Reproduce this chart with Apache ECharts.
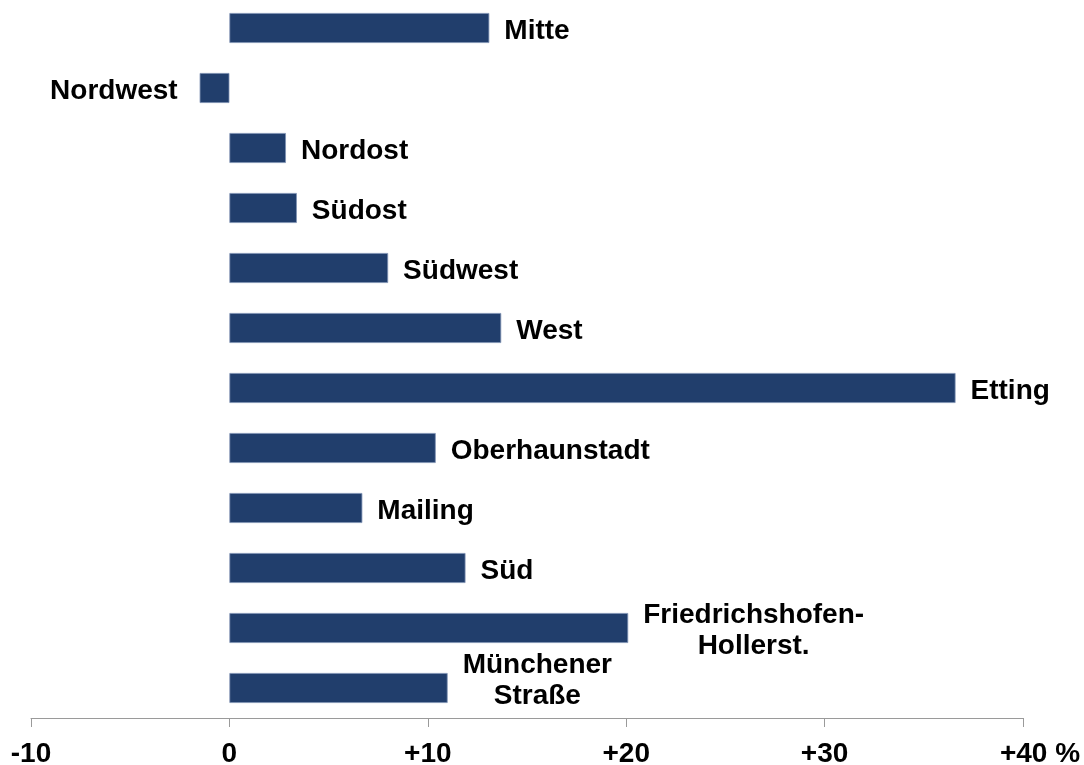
<!DOCTYPE html>
<html>
<head>
<meta charset="utf-8">
<script src="https://cdn.jsdelivr.net/npm/echarts@6/dist/echarts.min.js"></script>
<style>
  html, body { margin: 0; padding: 0; background: #fff; }
  #main { width: 1084px; height: 765px; }
</style>
</head>
<body>
<div id="main"></div>
<script>
var myChart = echarts.init(document.getElementById('main'));

var districts = ['Mitte', 'Nordwest', 'Nordost', 'Südost', 'Südwest', 'West', 'Etting',
    'Oberhaunstadt', 'Mailing', 'Süd', 'Friedrichshofen-\nHollerst.', 'Münchener\nStraße'];
var change = [13.1, -1.5, 2.85, 3.4, 8.0, 13.7, 36.6, 10.4, 6.7, 11.9, 20.1, 11.0];
var axisTicks = [-10, 0, 10, 20, 30, 40];

var font = '"Liberation Sans", Arial, Helvetica, sans-serif';

var barData = change.map(function (v, i) {
    var item = {
        value: v,
        label: { position: v < 0 ? 'left' : 'right', distance: v < 0 ? 22 : 15, offset: [0, 3] }
    };
    if (districts[i].indexOf('Münchener') === 0) {
        item.label.offset = [0, -7];
    }
    return item;
});

var option = {
    backgroundColor: '#ffffff',
    animation: false,
    grid: {
        left: 31,
        right: 61,
        top: -2,
        bottom: 47,
        outerBoundsMode: 'none'
    },
    xAxis: {
        type: 'value',
        min: axisTicks[0],
        max: axisTicks[axisTicks.length - 1],
        interval: 10,
        splitLine: { show: false },
        axisLine: { show: true, onZero: false, lineStyle: { color: '#9a9a9a', width: 1 } },
        axisTick: { show: true, length: 9, lineStyle: { color: '#9a9a9a', width: 1 } },
        axisLabel: {
            margin: 22,
            color: '#000',
            fontFamily: font,
            fontWeight: 'bold',
            fontSize: 28,
            showMaxLabel: true,
            formatter: function (v) {
                if (v === 40) return '{pad|+40 %}';
                return v > 0 ? '+' + v : '' + v;
            },
            rich: {
                pad: {
                    color: '#000',
                    fontFamily: font,
                    fontWeight: 'bold',
                    fontSize: 28,
                    padding: [0, 0, 0, 34]
                }
            }
        }
    },
    yAxis: {
        type: 'category',
        inverse: true,
        data: districts,
        axisLine: { show: false },
        axisTick: { show: false },
        axisLabel: { show: false },
        splitLine: { show: false }
    },
    series: [
        {
            type: 'bar',
            barWidth: 30,
            data: barData,
            itemStyle: {
                color: '#213e6c',
                borderColor: '#7d90b3',
                borderWidth: 0.8
            },
            label: {
                show: true,
                formatter: function (p) {
                    return p.name.split('\n').map(function (s) { return '{c|' + s + '}'; }).join('\n');
                },
                rich: {
                    c: {
                        color: '#000',
                        fontFamily: font,
                        fontWeight: 'bold',
                        fontSize: 28,
                        lineHeight: 31,
                        align: 'center'
                    }
                }
            }
        }
    ]
};

myChart.setOption(option);
</script>
</body>
</html>
